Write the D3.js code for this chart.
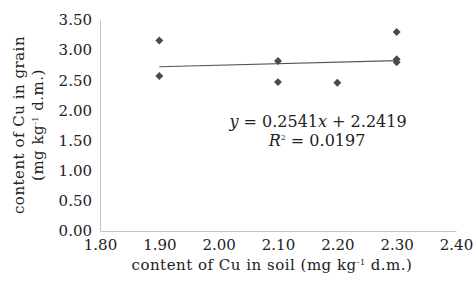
<!DOCTYPE html>
<html>
<head>
<meta charset="utf-8">
<script src="https://cdn.jsdelivr.net/npm/d3@7"></script>
<style>
  body { margin: 0; background: #fff; }
  svg text { font-family: "DejaVu Serif", serif; fill: #222; }
</style>
</head>
<body>
<svg id="chart" width="473" height="284"></svg>
<script>
// soil Cu (x) vs grain Cu (y)
var soil = [1.9, 1.9, 2.1, 2.1, 2.2, 2.3, 2.3, 2.3];
var grain = [3.16, 2.57, 2.82, 2.47, 2.46, 3.30, 2.85, 2.80];
var xTicks = [1.8, 1.9, 2.0, 2.1, 2.2, 2.3, 2.4];
var yTicks = [0, 0.5, 1.0, 1.5, 2.0, 2.5, 3.0, 3.5];
var slope = 0.2541, intercept = 2.2419;

var svg = d3.select("#chart");

var x = d3.scaleLinear().domain([1.8, 2.4]).range([100, 456]);
var y = d3.scaleLinear().domain([0, 3.5]).range([231, 20]);

var fmt = d3.format(".2f");

// y axis
var gy = svg.append("g")
  .attr("transform", "translate(100,0)")
  .call(d3.axisLeft(y).tickValues(yTicks).tickFormat(fmt).tickSize(0).tickPadding(8));
gy.select(".domain").attr("stroke", "#c4c4c4");
gy.selectAll("text").style("font-size", "15px").style("font-family", "DejaVu Serif").attr("fill", "#222");

// x axis
var gx = svg.append("g")
  .attr("transform", "translate(0,231)")
  .call(d3.axisBottom(x).tickValues(xTicks).tickFormat(fmt).tickSize(0).tickPadding(8));
gx.select(".domain").attr("stroke", "#c4c4c4");
gx.selectAll("text").style("font-size", "15px").style("font-family", "DejaVu Serif").attr("fill", "#222");

// trend line
var xr = d3.extent(soil);
svg.append("line")
  .attr("x1", x(xr[0])).attr("y1", y(slope * xr[0] + intercept))
  .attr("x2", x(xr[1])).attr("y2", y(slope * xr[1] + intercept))
  .attr("stroke", "#555").attr("stroke-width", 1.2);

// points
svg.append("g").selectAll("path")
  .data(soil.map((s, i) => [s, grain[i]]))
  .enter()
  .append("path")
  .attr("d", d3.symbol(d3.symbolDiamond2, 40))
  .attr("transform", d => "translate(" + x(d[0]) + "," + y(d[1]) + ")")
  .attr("fill", "#4a4a4a");

// equation
var eq = svg.append("text").attr("x", 318).attr("y", 127)
  .attr("text-anchor", "middle").style("font-size", "16px");
eq.append("tspan").attr("font-style", "italic").text("y");
eq.append("tspan").text(" = 0.2541");
eq.append("tspan").attr("font-style", "italic").text("x");
eq.append("tspan").text(" + 2.2419");

var r2 = svg.append("text").attr("x", 317).attr("y", 146)
  .attr("text-anchor", "middle").style("font-size", "16px");
r2.append("tspan").attr("font-style", "italic").text("R");
r2.append("tspan").attr("dy", -6).style("font-size", "8px").text("2");
r2.append("tspan").attr("dy", 6).text(" = 0.0197");

// x title
var xt = svg.append("text").attr("x", 272).attr("y", 270)
  .attr("text-anchor", "middle").style("font-size", "15px").style("letter-spacing", "0.5px");
xt.append("tspan").text("content of Cu in soil (mg kg");
xt.append("tspan").attr("dy", -5).style("font-size", "8px").text("-1");
xt.append("tspan").attr("dy", 5).text(" d.m.)");

// y title
var yt = svg.append("g").attr("transform", "translate(0,125) rotate(-90)");
yt.append("text").attr("x", 0).attr("y", 24)
  .attr("text-anchor", "middle").style("font-size", "15px").style("letter-spacing", "0.5px")
  .text("content of Cu in grain");
var yt2 = yt.append("text").attr("x", 0).attr("y", 43)
  .attr("text-anchor", "middle").style("font-size", "15px").style("letter-spacing", "0.5px");
yt2.append("tspan").text("(mg kg");
yt2.append("tspan").attr("dy", -5).style("font-size", "8px").text("-1");
yt2.append("tspan").attr("dy", 5).text(" d.m.)");
</script>
</body>
</html>
